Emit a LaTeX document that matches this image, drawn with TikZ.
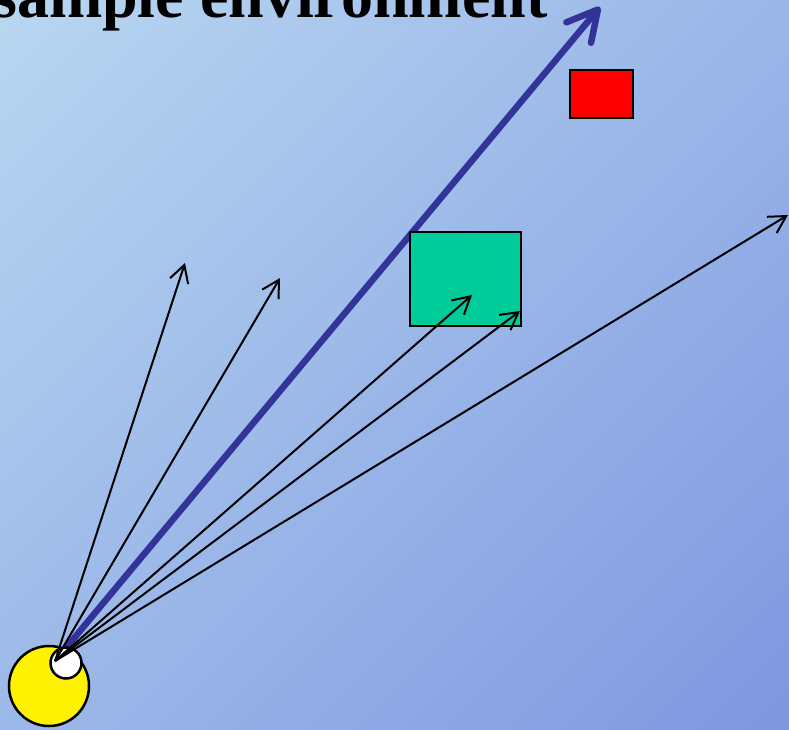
\documentclass[tikz,border=0pt]{standalone}
\usepackage{fontspec}
\setmainfont{Liberation Serif}
\usetikzlibrary{arrows.meta}
\definecolor{skytop}{RGB}{196,228,244}
\definecolor{skybottom}{RGB}{114,138,221}
\definecolor{rayblue}{RGB}{51,51,153}
\definecolor{boxgreen}{RGB}{0,204,153}
\pgfdeclareverticalshading{skyfade}{100bp}{color(0bp)=(skybottom); color(100bp)=(skytop)}
\tikzset{
  ray/.style={line width=2pt, -{Straight Barb[length=17pt,width=19pt]}},
  mainray/.style={rayblue, line width=6.5pt, line cap=round, -{Straight Barb[length=30pt,width=32pt,round]}},
  scenebox/.style={draw=black, line width=2pt, inner sep=0pt, anchor=north west},
  blob/.style={circle, draw=black, line width=2.5pt, inner sep=0pt},
}
\begin{document}
\begin{tikzpicture}[x=1pt,y=-1pt]
  \useasboundingbox (0,0) rectangle (789,729);
  \shade[shading=skyfade, shading angle=45] (0,0) rectangle (789,729);

  % title, cut by the top edge
  \node[anchor=base west, inner sep=0pt, font=\bfseries\fontsize{64}{70}\selectfont] (title) at (-8,17) {sample environment};

  % ray ends
  \coordinate (eye) at (55,661);
  \coordinate (main) at (600,7);
  \coordinate (r1) at (185,263);
  \coordinate (r2) at (280,278);
  \coordinate (r3) at (472,295);
  \coordinate (r4) at (520,311);
  \coordinate (r5) at (788,215);

  % main direction
  \draw[mainray] (eye) -- (main);

  % objects
  \node[scenebox, fill=red, minimum width=63pt, minimum height=48pt] (redbox) at (569,69) {};
  \node[scenebox, fill=boxgreen, minimum width=111pt, minimum height=94pt] (greenbox) at (409,231) {};

  % light and camera
  \node[blob, fill=yellow, minimum size=80pt] (sun) at (49,686) {};
  \node[blob, fill=white, minimum size=31pt] (lens) at (66,663) {};

  % sampled rays
  \foreach \i in {1,...,5}
    \draw[ray] (eye) -- (r\i);
\end{tikzpicture}
\end{document}
